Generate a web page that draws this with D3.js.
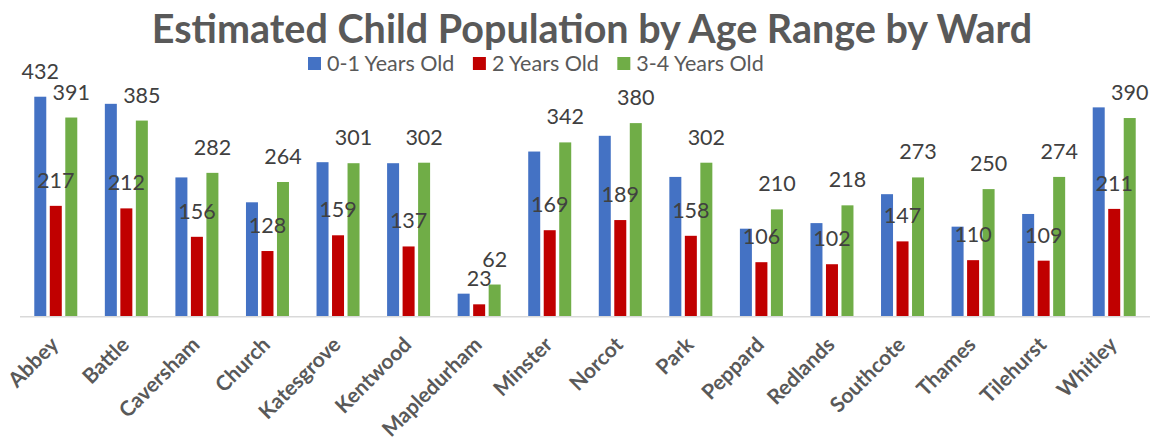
<!DOCTYPE html>
<html>
<head>
<meta charset="utf-8">
<script src="https://cdn.jsdelivr.net/npm/d3@7"></script>
<style>
  html, body { margin: 0; padding: 0; background: #fff; }
  svg { display: block; }
</style>
</head>
<body>
<svg id="chart" width="1160" height="446"></svg>
<script>
// Wards along the category axis
const wards = ["Abbey", "Battle", "Caversham", "Church", "Katesgrove", "Kentwood",
  "Mapledurham", "Minster", "Norcot", "Park", "Peppard", "Redlands",
  "Southcote", "Thames", "Tilehurst", "Whitley"];

// Estimated children per ward, one list per age range
const age0to1 = [432, 418, 273, 224, 303, 301, 44, 324, 355, 274, 172, 183, 240, 176, 201, 411];
const age2 = [217, 212, 156, 128, 159, 137, 23, 169, 189, 158, 106, 102, 147, 110, 109, 211];
const age3to4 = [391, 385, 282, 264, 301, 302, 62, 342, 380, 302, 210, 218, 273, 250, 274, 390];

// Legend names and colours per series
const seriesNames = ["0-1 Years Old", "2 Years Old", "3-4 Years Old"];
const seriesColors = ["#4472C4", "#C00000", "#70AD47"];

// Wards whose 0-1 bar carries a value label
const age0to1Labelled = ["Abbey"];

const title = "Estimated Child Population by Age Range by Ward";

const series = [
  { name: seriesNames[0], color: seriesColors[0], values: age0to1, labelled: age0to1Labelled },
  { name: seriesNames[1], color: seriesColors[1], values: age2, labelled: wards },
  { name: seriesNames[2], color: seriesColors[2], values: age3to4, labelled: wards }
];

const svg = d3.select("#chart");
const baseY = 316;

const x = d3.scaleBand().domain(wards).range([20.5, 1149.5]).paddingInner(0).paddingOuter(0);
const bw = x.bandwidth();
const groupFrac = 0.6094;
const xs = d3.scaleBand().domain(seriesNames)
  .range([bw * (1 - groupFrac) / 2, bw * (1 + groupFrac) / 2])
  .paddingInner(0.226).paddingOuter(0);
const y = d3.scaleLinear().domain([0, 500]).range([baseY, 62.2]);

// Title
svg.append("text")
  .attr("x", 592).attr("y", 43)
  .attr("text-anchor", "middle")
  .attr("font-family", "Lato, 'Open Sans', sans-serif")
  .attr("font-weight", "bold")
  .attr("font-size", 39.5)
  .attr("fill", "#595959")
  .text(title);

// Legend
const legend = svg.append("g").attr("font-family", "Lato, sans-serif").attr("font-size", 21.5).attr("fill", "#595959");
let lx = 308;
series.forEach(s => {
  legend.append("rect").attr("x", lx).attr("y", 57).attr("width", 13).attr("height", 13).attr("fill", s.color);
  const t = legend.append("text").attr("x", lx + 19).attr("y", 70.5).text(s.name);
  lx += 19 + t.node().getComputedTextLength() + 18.5;
});

// Bars
const groups = svg.append("g").selectAll("g.ward")
  .data(wards).join("g")
  .attr("class", "ward")
  .attr("transform", d => `translate(${x(d)},0)`);

series.forEach(s => {
  groups.append("rect")
    .attr("x", xs(s.name))
    .attr("width", xs.bandwidth())
    .attr("y", (d, i) => y(s.values[i]))
    .attr("height", (d, i) => baseY - y(s.values[i]))
    .attr("fill", s.color);
});

// Category axis line
svg.append("line")
  .attr("x1", 20).attr("x2", 1150)
  .attr("y1", baseY + 0.75).attr("y2", baseY + 0.75)
  .attr("stroke", "#D9D9D9").attr("stroke-width", 1.5);

// Value labels
series.forEach(s => {
  groups.filter(d => s.labelled.includes(d))
    .append("text")
    .attr("x", xs(s.name) + xs.bandwidth() / 2)
    .attr("y", d => y(s.values[wards.indexOf(d)]) - 18)
    .attr("text-anchor", "middle")
    .attr("font-family", "Lato, sans-serif")
    .attr("font-size", 21.5)
    .attr("fill", "#404040")
    .text(d => s.values[wards.indexOf(d)]);
});

// Category labels, rotated
const xAxis = d3.axisBottom(x).tickSize(0).tickPadding(0);
const axisG = svg.append("g").attr("transform", `translate(0,${baseY})`).call(xAxis);
axisG.select(".domain").remove();
axisG.selectAll(".tick text")
  .attr("font-family", "Lato, sans-serif")
  .attr("font-weight", "bold")
  .attr("font-size", 21)
  .attr("fill", "#595959")
  .attr("text-anchor", "end")
  .attr("dy", null)
  .attr("y", 0)
  .attr("transform", "translate(4,30) rotate(-45)");
</script>
</body>
</html>
